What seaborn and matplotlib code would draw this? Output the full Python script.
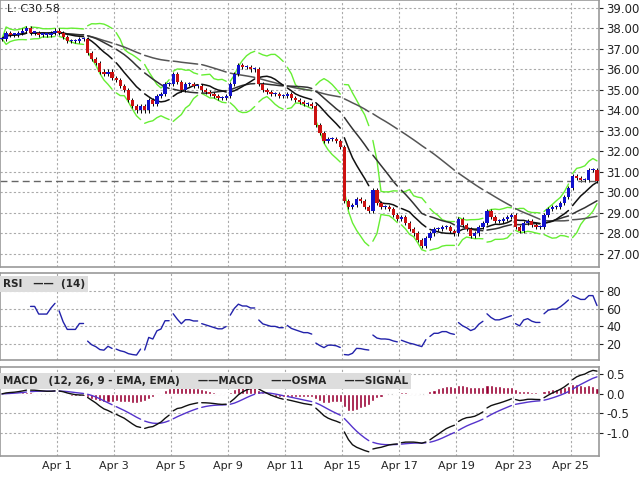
import numpy as np
import pandas as pd
import matplotlib
matplotlib.use("Agg")
import matplotlib.pyplot as plt
import seaborn as sns

# --- data: hourly closes, 7 bars per trading day ---
days = ["Mar 28", "Mar 29", "Apr 1", "Apr 2", "Apr 3", "Apr 4", "Apr 5", "Apr 8", "Apr 9",
        "Apr 10", "Apr 11", "Apr 12", "Apr 15", "Apr 16", "Apr 17", "Apr 18", "Apr 19",
        "Apr 22", "Apr 23", "Apr 24", "Apr 25"]
closes = [
    [37.5, 37.8, 37.7, 37.7, 37.8, 37.9, 38.0],
    [37.8, 37.8, 37.7, 37.7, 37.7, 37.8, 37.9],
    [37.8, 37.6, 37.4, 37.4, 37.4, 37.5, 37.5],
    [36.8, 36.5, 36.3, 35.9, 35.8, 35.9, 35.6],
    [35.5, 35.2, 35.0, 34.5, 34.2, 34.0, 34.2],
    [34.0, 34.5, 34.3, 34.7, 34.8, 35.3, 35.3],
    [35.8, 35.4, 35.0, 35.3, 35.3, 35.2, 35.2],
    [35.0, 34.9, 34.8, 34.7, 34.6, 34.6, 34.7],
    [35.3, 35.8, 36.2, 36.1, 36.1, 36.0, 36.0],
    [35.3, 35.0, 34.9, 34.8, 34.8, 34.7, 34.7],
    [34.8, 34.6, 34.5, 34.4, 34.3, 34.3, 34.2],
    [33.3, 32.9, 32.5, 32.6, 32.6, 32.5, 32.2],
    [29.6, 29.3, 29.4, 29.7, 29.6, 29.3, 29.1],
    [30.1, 29.5, 29.3, 29.3, 29.2, 28.9, 28.7],
    [28.8, 28.5, 28.2, 28.0, 27.7, 27.4, 27.8],
    [28.0, 28.2, 28.2, 28.3, 28.3, 28.1, 28.0],
    [28.7, 28.4, 28.2, 27.9, 28.0, 28.3, 28.5],
    [29.1, 28.8, 28.6, 28.6, 28.7, 28.8, 28.9],
    [28.3, 28.1, 28.5, 28.6, 28.4, 28.3, 28.3],
    [28.9, 29.2, 29.3, 29.3, 29.5, 29.8, 30.2],
    [30.8, 30.7, 30.6, 30.6, 31.1, 31.1, 30.58],
]
tick_days = ["Apr 1", "Apr 3", "Apr 5", "Apr 9", "Apr 11", "Apr 15", "Apr 17",
             "Apr 19", "Apr 23", "Apr 25"]
last_price = 30.58

BARS = 7
rows = []
for d, vals in enumerate(closes):
    for k, c in enumerate(vals):
        rows.append({"day": d, "x": d + (k + 0.5) / BARS, "close": c})
df = pd.DataFrame(rows)
df["open"] = df["close"].shift(1).fillna(df["close"])
df["high"] = df[["open", "close"]].max(axis=1) + 0.1
df["low"] = df[["open", "close"]].min(axis=1) - 0.1

# indicators
c = df["close"]
df["ma10"] = c.rolling(10, min_periods=1).mean()
df["ma20"] = c.rolling(20, min_periods=1).mean()
df["ma50"] = c.rolling(50, min_periods=1).mean()
sd = c.rolling(10, min_periods=2).std().fillna(0)
df["bb_up"] = df["ma10"] + 2 * sd
df["bb_lo"] = df["ma10"] - 2 * sd
delta = c.diff().fillna(0)
up = delta.clip(lower=0).ewm(com=13, adjust=True, min_periods=5).mean()
dn = (-delta.clip(upper=0)).ewm(com=13, adjust=True, min_periods=5).mean()
df["rsi"] = 100 * up / (up + dn).replace(0, np.nan)
df["macd"] = c.ewm(span=12, adjust=False).mean() - c.ewm(span=26, adjust=False).mean()
df["signal"] = df["macd"].ewm(span=9, adjust=False).mean()
df["osma"] = df["macd"] - df["signal"]

sns.set_style("white")
plt.rcParams["font.family"] = ["DejaVu Sans"]
fig = plt.figure(figsize=(6.4, 4.8), dpi=100)
ax1 = fig.add_axes([0.0, 0.444, 0.936, 0.556])
ax2 = fig.add_axes([0.0, 0.25, 0.936, 0.181])
ax3 = fig.add_axes([0.0, 0.05, 0.936, 0.185])

tick_pos = [days.index(t) for t in tick_days]
for ax in (ax1, ax2, ax3):
    ax.set_xlim(0, len(days))
    ax.set_xticks(tick_pos)
    ax.grid(True, color="#aaaaaa", linestyle=(0, (2, 2)), linewidth=0.8)
    ax.set_axisbelow(True)
    ax.yaxis.tick_right()
    ax.tick_params(axis="y", labelsize=8.5, length=3, pad=2, colors="#222222")
    ax.tick_params(axis="x", length=0)
    for s in ax.spines.values():
        s.set_color("#999999")
        s.set_linewidth(1.2)
ax1.set_xticklabels([])
ax2.set_xticklabels([])
ax3.set_xticklabels(tick_days, fontsize=8)

# main price panel
ax1.set_ylim(26.37, 39.39)
ax1.set_yticks(np.arange(27, 40, 1))
ax1.set_yticklabels([f"{v:.2f}" for v in np.arange(27, 40, 1)])
for d, g in df.groupby("day"):
    sns.lineplot(x=g["x"], y=g["bb_up"], color="#66ee33", lw=1, ax=ax1)
    sns.lineplot(x=g["x"], y=g["bb_lo"], color="#66ee33", lw=1, ax=ax1)
    sns.lineplot(x=g["x"], y=g["ma50"], color="#555555", lw=1.1, ax=ax1)
    sns.lineplot(x=g["x"], y=g["ma20"], color="#333333", lw=1.1, ax=ax1)
    sns.lineplot(x=g["x"], y=g["ma10"], color="#111111", lw=1.1, ax=ax1)
ax1.vlines(df["x"], df["low"], df["high"], color="black", lw=0.7)
colors = np.where(df["close"] >= df["open"], "#1111cc", "#cc1111")
ax1.bar(df["x"], (df["close"] - df["open"]).abs().clip(lower=0.06),
        bottom=df[["open", "close"]].min(axis=1), width=0.8 / BARS, color=colors,
        linewidth=0, zorder=3)
ax1.axhline(last_price, color="#666666", lw=1, linestyle=(0, (5, 3)))
ax1.text(0.012, 0.985, f"L: C{last_price:.2f}", transform=ax1.transAxes,
         fontsize=8, va="top", color="#222222")
ax1.set_xlabel(""); ax1.set_ylabel("")

# RSI panel
ax2.set_ylim(1.9, 100.4)
ax2.set_yticks([20, 40, 60, 80])
for d, g in df.groupby("day"):
    sns.lineplot(x=g["x"], y=g["rsi"], color="#2222aa", lw=1, ax=ax2)
ax2.set_xlabel(""); ax2.set_ylabel("")
ax2.text(0.005, 0.93, "RSI   ——  (14)", transform=ax2.transAxes, fontsize=7.5,
         va="top", fontweight="bold",
         bbox=dict(boxstyle="square,pad=0.3", fc="#dddddd", ec="none"))

# MACD panel
ax3.set_ylim(-1.585, 0.68)
ax3.set_yticks([0.5, 0.0, -0.5, -1.0])
ax3.set_yticklabels(["0.5", "0.0", "-0.5", "-1.0"])
ax3.bar(df["x"], df["osma"], width=0.75 / BARS, color="#990033")
for d, g in df.groupby("day"):
    sns.lineplot(x=g["x"], y=g["signal"], color="#5533cc", lw=1, ax=ax3)
    sns.lineplot(x=g["x"], y=g["macd"], color="#111111", lw=1, ax=ax3)
ax3.set_xlabel(""); ax3.set_ylabel("")
ax3.text(0.005, 0.9, "MACD   (12, 26, 9 - EMA, EMA)     ——MACD     ——OSMA     ——SIGNAL",
         transform=ax3.transAxes, fontsize=7.5, va="top", fontweight="bold",
         bbox=dict(boxstyle="square,pad=0.3", fc="#dddddd", ec="none"))

fig.savefig("out.png", dpi=100)
